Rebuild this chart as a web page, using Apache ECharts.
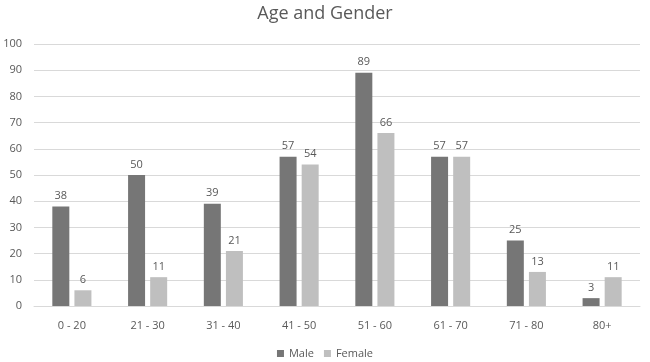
<!DOCTYPE html>
<html><head><meta charset="utf-8">
<script src="https://cdn.jsdelivr.net/npm/echarts@6/dist/echarts.min.js"></script>
<style>html,body{margin:0;padding:0;background:#fff}#c{width:650px;height:362px}</style>
</head><body><div id="c"></div>
<script>
var categories = ['0 - 20','21 - 30','31 - 40','41 - 50','51 - 60','61 - 70','71 - 80','80+'];
var male = [38,50,39,57,89,57,25,3];
var female = [6,11,21,54,66,57,13,11];
var yTicks = {min:0, max:100, interval:10};
var font = '"Open Sans", "Liberation Sans", sans-serif';
var chart = echarts.init(document.getElementById('c'));
var lbl = {show:true, position:'top', color:'#595959', fontSize:11, fontFamily:font, distance:5};
chart.setOption({
  animation:false,
  title:{text:'Age and Gender', left:'center', top:0, textStyle:{color:'#595959', fontSize:18, fontWeight:'normal', fontFamily:font}},
  legend:{bottom:-2, left:'center', itemWidth:7, itemHeight:7, itemGap:10, icon:'rect', textStyle:{color:'#595959', fontSize:11, fontFamily:font}, data:['Male','Female']},
  grid:{left:34, right:10, top:44, bottom:56, containLabel:false, outerBoundsMode:'none'},
  xAxis:{type:'category', data:categories, axisTick:{show:false}, axisLine:{lineStyle:{color:'#d9d9d9'}}, axisLabel:{color:'#595959', fontSize:11, fontFamily:font, margin:14}},
  yAxis:{type:'value', min:yTicks.min, max:yTicks.max, interval:yTicks.interval, axisLabel:{color:'#595959', fontSize:11, fontFamily:font, margin:12}, splitLine:{lineStyle:{color:'#d9d9d9'}}, axisLine:{show:false}},
  series:[
    {name:'Male', type:'bar', data:male, barWidth:17, barGap:'30%', itemStyle:{color:'#767676'}, label:lbl},
    {name:'Female', type:'bar', data:female, barWidth:17, barGap:'30%', itemStyle:{color:'#bfbfbf'}, label:lbl}
  ]
});
</script></body></html>
